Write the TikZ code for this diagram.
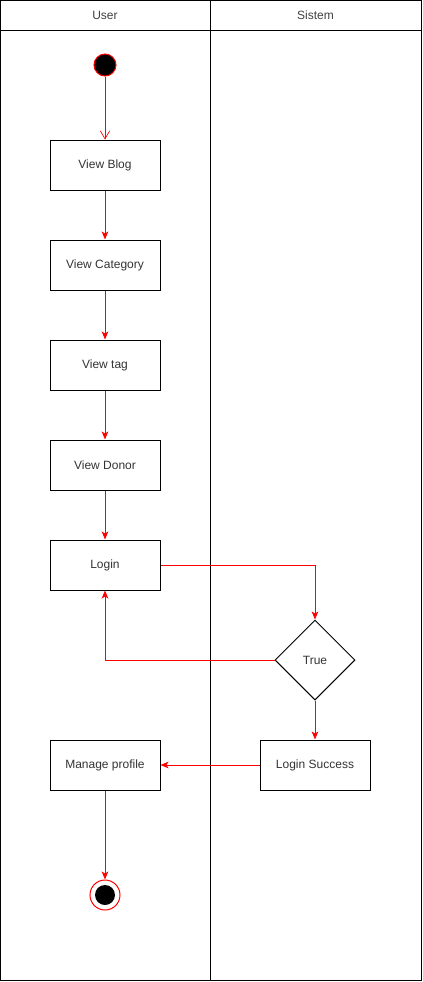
\documentclass[tikz,border=0pt]{standalone}
\usepackage{fontspec}
\setmainfont{Liberation Sans}
\usetikzlibrary{arrows.meta,shapes.geometric}
\begin{document}
\begin{tikzpicture}[x=0.75pt,y=-0.75pt,
  font=\fontsize{9}{11}\selectfont,
  every node/.style={inner sep=0pt},
  actbox/.style={draw=black,line width=0.75pt,minimum width=82.5pt,minimum height=37.5pt,text=black!80},
  decis/.style={draw=black,line width=0.75pt,diamond,minimum width=60pt,minimum height=60pt,text=black!80},
  flow/.style={draw=red,line width=0.75pt,-{Stealth[length=6pt,width=5pt,inset=1.5pt]}},
  openflow/.style={draw=red,line width=0.5pt,-{Straight Barb[length=6pt,width=7pt]}},
  lanetitle/.style={text=black!75}]
\useasboundingbox (0,0) rectangle (422,982);
% pool
\draw[line width=0.75pt] (0.5,0.5) rectangle (421,980.5);
\draw[line width=0.75pt] (0.5,30) -- (421,30);
\draw[line width=0.75pt] (210,0.5) -- (210,980.5);
\node[lanetitle] (luser) at (105,15) {User};
\node[lanetitle] (lsis) at (315.5,15) {Sistem};
% nodes
\node[circle,fill=black,draw=red,line width=0.75pt,minimum size=16.5pt] (start) at (105,65) {};
\node[actbox] (blog) at (105,165) {View Blog};
\node[actbox] (cat) at (105,265) {View Category};
\node[actbox] (tag) at (105,365) {View tag};
\node[actbox] (donor) at (105,465) {View Donor};
\node[actbox] (login) at (105,565) {Login};
\node[decis] (true) at (315,660) {True};
\node[actbox] (succ) at (315,765) {Login Success};
\node[actbox] (manage) at (105,765) {Manage profile};
\node[circle,draw=red,line width=0.75pt,minimum size=22.5pt] (end) at (105,895) {};
\node[circle,fill=black,minimum size=15pt] (endin) at (105,895) {};
% connectors
\draw[openflow] (start) -- (blog);
\draw[flow] (blog) -- (cat);
\draw[flow] (cat) -- (tag);
\draw[flow] (tag) -- (donor);
\draw[flow] (donor) -- (login);
\draw[flow] (login.east) -| (true.north);
\draw[flow] (true.west) -| (login.south);
\draw[flow] (true.south) -- (succ.north);
\draw[flow] (succ.west) -- (manage.east);
\draw[flow] (manage.south) -- (end.north);
\end{tikzpicture}
\end{document}
